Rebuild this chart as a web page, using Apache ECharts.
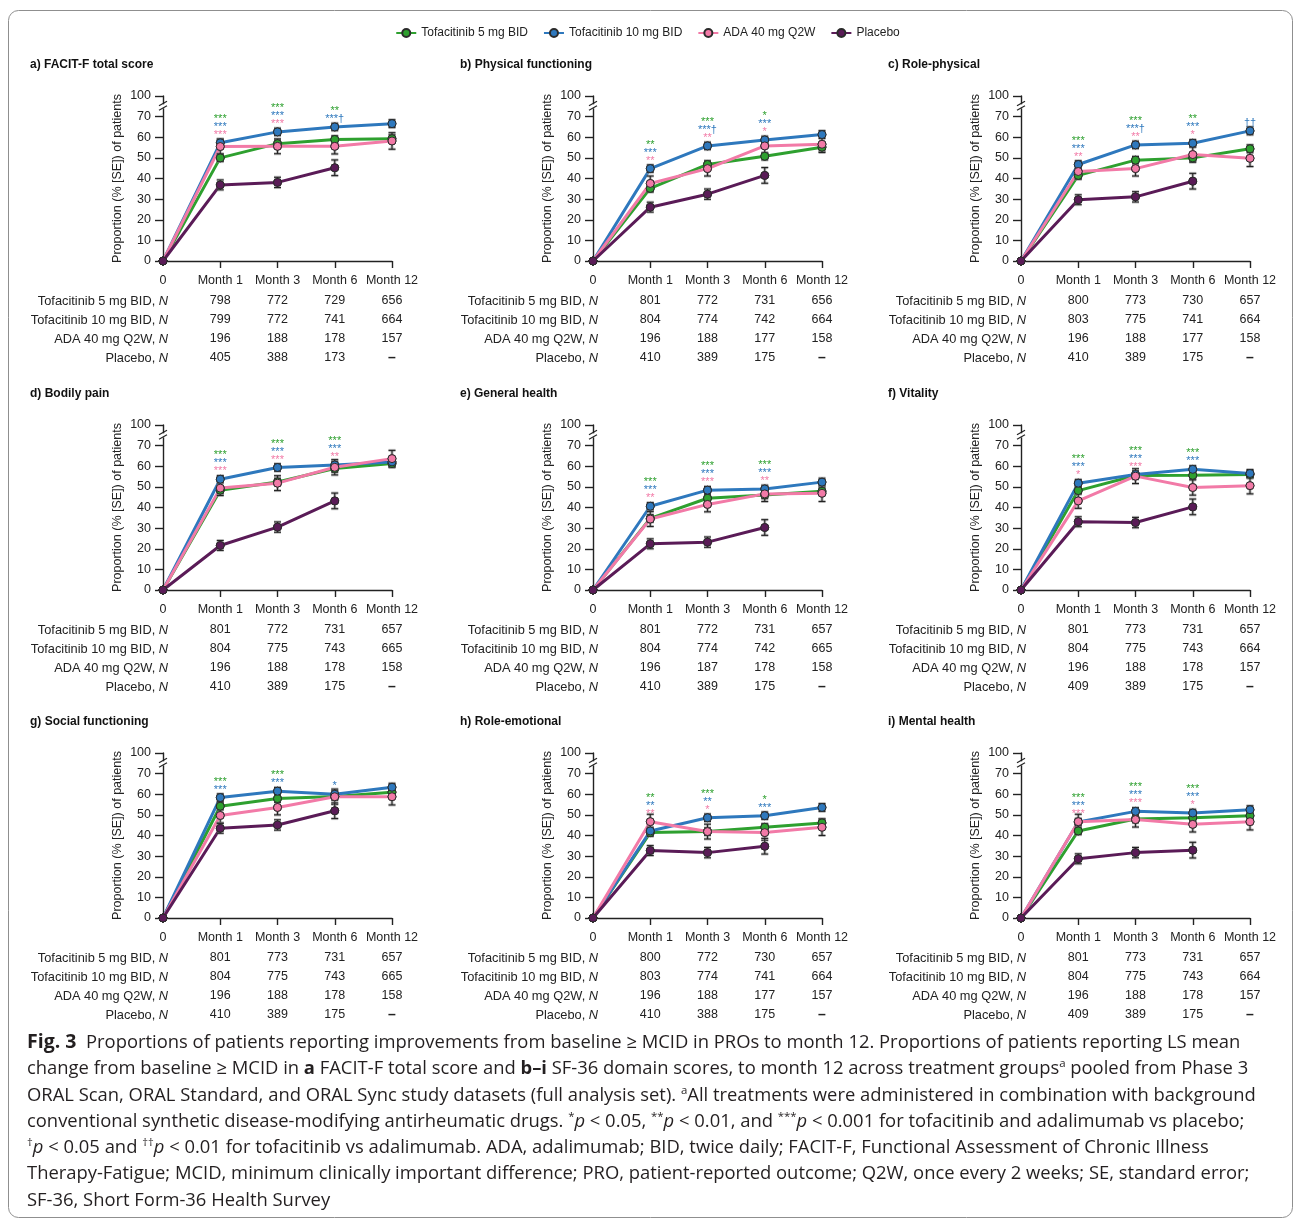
<!DOCTYPE html>
<html><head><meta charset="utf-8">
<script src="https://cdn.jsdelivr.net/npm/echarts@6/dist/echarts.min.js"></script>
<style>
html,body{margin:0;padding:0;background:#fff;}
#chart{position:absolute;left:0;top:0;width:1295px;height:1219px;}
#caption{position:absolute;left:27px;top:1028px;font-family:'Open Sans',sans-serif;font-size:18.4px;line-height:26.3px;color:#231f20;white-space:nowrap;}
#caption sup{font-size:62%;line-height:0;vertical-align:0.65em;}
</style></head><body>
<div id="chart"></div>
<div id="caption">
<div><b style="font-size:19.5px">Fig. 3</b>&nbsp; Proportions of patients reporting improvements from baseline ≥ MCID in PROs to month 12. Proportions of patients reporting LS mean</div>
<div>change from baseline ≥ MCID in <b>a</b> FACIT-F total score and <b>b–i</b> SF-36 domain scores, to month 12 across treatment groups<sup>a</sup> pooled from Phase 3</div>
<div>ORAL Scan, ORAL Standard, and ORAL Sync study datasets (full analysis set). <sup>a</sup>All treatments were administered in combination with background</div>
<div>conventional synthetic disease-modifying antirheumatic drugs. <sup>*</sup><i>p</i> &lt; 0.05, <sup>**</sup><i>p</i> &lt; 0.01, and <sup>***</sup><i>p</i> &lt; 0.001 for tofacitinib and adalimumab vs placebo;</div>
<div><sup>†</sup><i>p</i> &lt; 0.05 and <sup>††</sup><i>p</i> &lt; 0.01 for tofacitinib vs adalimumab. ADA, adalimumab; BID, twice daily; FACIT-F, Functional Assessment of Chronic Illness</div>
<div>Therapy-Fatigue; MCID, minimum clinically important difference; PRO, patient-reported outcome; Q2W, once every 2 weeks; SE, standard error;</div>
<div>SF-36, Short Form-36 Health Survey</div>
</div>
<script>
// ---------- data ----------
const monthLabels = ['0', 'Month 1', 'Month 3', 'Month 6', 'Month 12'];
const groupNames = ['Tofacitinib 5 mg BID', 'Tofacitinib 10 mg BID', 'ADA 40 mg Q2W', 'Placebo'];
const groupColors = ['#2ea02f', '#2e78bd', '#f27aa7', '#5a1b57'];
const panelTitles = ['a) FACIT-F total score', 'b) Physical functioning', 'c) Role-physical',
  'd) Bodily pain', 'e) General health', 'f) Vitality',
  'g) Social functioning', 'h) Role-emotional', 'i) Mental health'];
const yAxisName = 'Proportion (% [SE]) of patients';

// standard errors (shared by group)
const seTofa5 = [0, 1.8, 1.8, 1.8, 1.9];
const seTofa10 = [0, 1.8, 1.8, 1.8, 1.9];
const seAda = [0, 3.6, 3.6, 3.7, 4.0];
const sePbo = [0, 2.4, 2.5, 3.8, null];

// a) FACIT-F
const aTofa5 = [0, 50.0, 56.9, 58.9, 59.3];
const aTofa10 = [0, 57.3, 62.6, 65.0, 66.6];
const aAda = [0, 55.5, 55.6, 55.6, 58.2];
const aPbo = [0, 36.9, 38.1, 45.2, null];
const aN5 = ['798', '772', '729', '656'];
const aN10 = ['799', '772', '741', '664'];
const aNAda = ['196', '188', '178', '157'];
const aNPbo = ['405', '388', '173', '–'];
const aStars = [null, ['***', '***', '***'], ['***', '***', '***'], ['**', '***†', ''], null];

// b) Physical functioning
const bTofa5 = [0, 35.2, 46.8, 50.8, 55.2];
const bTofa10 = [0, 44.8, 55.8, 58.7, 61.3];
const bAda = [0, 37.6, 44.8, 55.8, 56.6];
const bPbo = [0, 26.1, 32.4, 41.5, null];
const bN5 = ['801', '772', '731', '656'];
const bN10 = ['804', '774', '742', '664'];
const bNAda = ['196', '188', '177', '158'];
const bNPbo = ['410', '389', '175', '–'];
const bStars = [null, ['**', '***', '**'], ['***', '***†', '**'], ['*', '***', '*'], null];

// c) Role-physical
const cTofa5 = [0, 41.5, 48.9, 50.0, 54.4];
const cTofa10 = [0, 46.8, 56.3, 57.1, 63.1];
const cAda = [0, 43.4, 44.8, 51.6, 49.8];
const cPbo = [0, 29.7, 31.1, 38.7, null];
const cN5 = ['800', '773', '730', '657'];
const cN10 = ['803', '775', '741', '664'];
const cNAda = ['196', '188', '177', '158'];
const cNPbo = ['410', '389', '175', '–'];
const cStars = [null, ['***', '***', '**'], ['***', '***†', '**'], ['**', '***', '*'], ['', '††', '']];

// d) Bodily pain
const dTofa5 = [0, 48.4, 52.4, 58.9, 61.3];
const dTofa10 = [0, 53.7, 59.4, 60.6, 62.1];
const dAda = [0, 49.4, 51.8, 59.5, 63.7];
const dPbo = [0, 21.6, 30.5, 43.2, null];
const dN5 = ['801', '772', '731', '657'];
const dN10 = ['804', '775', '743', '665'];
const dNAda = ['196', '188', '178', '158'];
const dNPbo = ['410', '389', '175', '–'];
const dStars = [null, ['***', '***', '***'], ['***', '***', '***'], ['***', '***', '**'], null];

// e) General health
const eTofa5 = [0, 34.7, 44.5, 46.1, 47.9];
const eTofa10 = [0, 40.6, 48.4, 49.0, 52.3];
const eAda = [0, 34.4, 41.5, 46.6, 46.9];
const ePbo = [0, 22.4, 23.2, 30.3, null];
const eN5 = ['801', '772', '731', '657'];
const eN10 = ['804', '774', '742', '665'];
const eNAda = ['196', '187', '178', '158'];
const eNPbo = ['410', '389', '175', '–'];
const eStars = [null, ['***', '***', '**'], ['***', '***', '***'], ['***', '***', '**'], null];

// f) Vitality
const fTofa5 = [0, 48.2, 55.5, 55.6, 56.0];
const fTofa10 = [0, 51.8, 56.0, 58.5, 56.5];
const fAda = [0, 43.2, 55.2, 49.7, 50.6];
const fPbo = [0, 33.1, 32.7, 40.3, null];
const fN5 = ['801', '773', '731', '657'];
const fN10 = ['804', '775', '743', '664'];
const fNAda = ['196', '188', '178', '157'];
const fNPbo = ['409', '389', '175', '–'];
const fStars = [null, ['***', '***', '*'], ['***', '***', '***'], ['***', '***', ''], null];

// g) Social functioning
const gTofa5 = [0, 54.2, 57.9, 58.9, 61.0];
const gTofa10 = [0, 58.4, 61.5, 60.0, 63.4];
const gAda = [0, 49.7, 53.6, 58.8, 58.8];
const gPbo = [0, 43.5, 45.1, 52.0, null];
const gN5 = ['801', '773', '731', '657'];
const gN10 = ['804', '775', '743', '665'];
const gNAda = ['196', '188', '178', '158'];
const gNPbo = ['410', '389', '175', '–'];
const gStars = [null, ['***', '***', ''], ['***', '***', ''], ['', '*', ''], null];

// h) Role-emotional
const hTofa5 = [0, 41.4, 41.9, 44.0, 46.1];
const hTofa10 = [0, 42.2, 48.6, 49.6, 53.6];
const hAda = [0, 46.7, 41.9, 41.4, 44.0];
const hPbo = [0, 32.7, 31.7, 34.8, null];
const hN5 = ['800', '772', '730', '657'];
const hN10 = ['803', '774', '741', '664'];
const hNAda = ['196', '188', '177', '157'];
const hNPbo = ['410', '388', '175', '–'];
const hStars = [null, ['**', '**', '**'], ['***', '**', '*'], ['*', '***', ''], null];

// i) Mental health
const iTofa5 = [0, 42.2, 48.0, 48.6, 49.6];
const iTofa10 = [0, 46.5, 51.7, 50.9, 52.5];
const iAda = [0, 46.7, 47.7, 45.4, 46.7];
const iPbo = [0, 28.7, 31.7, 32.9, null];
const iN5 = ['801', '773', '731', '657'];
const iN10 = ['804', '775', '743', '664'];
const iNAda = ['196', '188', '178', '157'];
const iNPbo = ['409', '389', '175', '–'];
const iStars = [null, ['***', '***', '***'], ['***', '***', '***'], ['***', '***', '*'], null];

// ---------- assemble ----------
const seAll = [seTofa5, seTofa10, seAda, sePbo];
const panels = [
  { vals: [aTofa5, aTofa10, aAda, aPbo], ns: [aN5, aN10, aNAda, aNPbo], stars: aStars },
  { vals: [bTofa5, bTofa10, bAda, bPbo], ns: [bN5, bN10, bNAda, bNPbo], stars: bStars },
  { vals: [cTofa5, cTofa10, cAda, cPbo], ns: [cN5, cN10, cNAda, cNPbo], stars: cStars },
  { vals: [dTofa5, dTofa10, dAda, dPbo], ns: [dN5, dN10, dNAda, dNPbo], stars: dStars },
  { vals: [eTofa5, eTofa10, eAda, ePbo], ns: [eN5, eN10, eNAda, eNPbo], stars: eStars },
  { vals: [fTofa5, fTofa10, fAda, fPbo], ns: [fN5, fN10, fNAda, fNPbo], stars: fStars },
  { vals: [gTofa5, gTofa10, gAda, gPbo], ns: [gN5, gN10, gNAda, gNPbo], stars: gStars },
  { vals: [hTofa5, hTofa10, hAda, hPbo], ns: [hN5, hN10, hNAda, hNPbo], stars: hStars },
  { vals: [iTofa5, iTofa10, iAda, iPbo], ns: [iN5, iN10, iNAda, iNPbo], stars: iStars }
];

const FONT = "'Liberation Sans', Arial, Helvetica, sans-serif";
const TXT = '#222';
const colLeft = [163, 593, 1021];
const rowTop = [96, 425, 753];
const gridW = 229, gridH = 165;
const tableOffsets = [40, 59, 78, 97];

const grid = [], xAxis = [], yAxis = [], series = [], title = [];

panels.forEach((p, k) => {
  const c = k % 3, r = Math.floor(k / 3);
  grid.push({ left: colLeft[c], top: rowTop[r], width: gridW, height: gridH });
  title.push({
    text: panelTitles[k], left: colLeft[c] - 133, top: rowTop[r] - 37, padding: 0,
    textStyle: { fontSize: 12, fontWeight: 'bold', color: '#111', fontFamily: FONT }
  });
  xAxis.push({
    type: 'category', gridIndex: k, data: monthLabels, boundaryGap: false,
    axisLine: { lineStyle: { color: TXT, width: 1.4 } },
    axisTick: { show: true, length: 7, interval: (i) => i > 0, lineStyle: { color: TXT, width: 1.4 } },
    axisLabel: { interval: 0, margin: 20, verticalAlign: 'middle', fontSize: 12.5, color: TXT, fontFamily: FONT },
    splitLine: { show: false }
  });
  yAxis.push({
    type: 'value', gridIndex: k, min: 0, max: 80, interval: 10,
    axisLine: { show: true, lineStyle: { color: TXT, width: 1.4 } },
    axisTick: { show: true, length: 8, lineStyle: { color: TXT, width: 1.4 } },
    splitLine: { show: false },
    axisLabel: { margin: 12, fontSize: 12.5, color: TXT, fontFamily: FONT,
      formatter: (v) => (v === 80 ? '100' : String(v)) },
    name: yAxisName, nameLocation: 'middle', nameGap: 39,
    nameTextStyle: { fontSize: 12.5, color: TXT, fontFamily: FONT }
  });

  // lines (with symbols for the legend icon)
  p.vals.forEach((arr, g) => {
    series.push({
      type: 'line', name: groupNames[g], xAxisIndex: k, yAxisIndex: k, data: arr,
      symbol: 'circle', symbolSize: 8, showSymbol: true, z: 2, silent: true,
      lineStyle: { width: 3, color: groupColors[g] },
      itemStyle: { color: groupColors[g], borderColor: '#2b2b2b', borderWidth: 1 },
      emphasis: { disabled: true }
    });
  });
  // error bars
  p.vals.forEach((arr, g) => {
    const se = seAll[g];
    const d = [];
    arr.forEach((v, i) => { if (v != null && se[i]) d.push([i, v, se[i]]); });
    series.push({
      type: 'custom', name: 'err' + k + '-' + g, xAxisIndex: k, yAxisIndex: k, z: 3, silent: true, clip: false,
      data: d,
      renderItem(params, api) {
        const x = api.value(0), y = api.value(1), s = api.value(2);
        const t = api.coord([x, y + s]), b = api.coord([x, y - s]);
        const cx = t[0], w = 3.5;
        const mk = (stroke, lw) => [
          { type: 'line', shape: { x1: cx, y1: t[1], x2: cx, y2: b[1] }, style: { stroke, lineWidth: lw } },
          { type: 'line', shape: { x1: cx - w, y1: t[1], x2: cx + w, y2: t[1] }, style: { stroke, lineWidth: lw } },
          { type: 'line', shape: { x1: cx - w, y1: b[1], x2: cx + w, y2: b[1] }, style: { stroke, lineWidth: lw } }
        ];
        return { type: 'group', children: mk('rgba(140,140,140,0.55)', 3).concat(mk('#222', 1.1)) };
      }
    });
  });
  // markers on top
  p.vals.forEach((arr, g) => {
    const d = [];
    arr.forEach((v, i) => { if (v != null) d.push([i, v]); });
    series.push({
      type: 'scatter', name: 'mk' + k + '-' + g, xAxisIndex: k, yAxisIndex: k, data: d,
      symbol: 'circle', symbolSize: 8, z: 4, silent: true,
      itemStyle: { color: groupColors[g], borderColor: '#2b2b2b', borderWidth: 1, opacity: 1 },
      emphasis: { disabled: true }
    });
  });
  // significance markers
  const starItems = [];
  p.stars.forEach((s, i) => {
    if (!s) return;
    const vals = p.vals.map((a) => a[i]).filter((v) => v != null);
    starItems.push({ value: [i, Math.max.apply(null, vals)], rows: s });
  });
  series.push({
    type: 'custom', name: 'stars' + k, xAxisIndex: k, yAxisIndex: k, z: 5, silent: true, clip: false,
    data: starItems.map((d) => d.value),
    renderItem(params, api) {
      const rows = starItems[params.dataIndex].rows;
      const pt = api.coord([api.value(0), api.value(1)]);
      const children = [];
      let level = 0;
      for (let rr = 2; rr >= 0; rr--) {
        if (!rows[rr]) continue;
        children.push({ type: 'text', style: {
          text: rows[rr], x: pt[0], y: pt[1] - 8 - level * 8, align: 'center', verticalAlign: 'middle',
          fill: groupColors[rr], fontSize: 11, fontFamily: FONT } });
        level++;
      }
      return { type: 'group', children };
    }
  });
  // y-axis break mark
  series.push({
    type: 'custom', name: 'brk' + k, xAxisIndex: k, yAxisIndex: k, z: 6, silent: true, clip: false,
    data: [[0, 75]],
    renderItem(params, api) {
      const q = api.coord([api.value(0), api.value(1)]);
      return { type: 'group', children: [
        { type: 'rect', shape: { x: q[0] - 2, y: q[1] - 2, width: 4, height: 4 }, style: { fill: '#fff' } },
        { type: 'line', shape: { x1: q[0] - 4, y1: q[1] - 0.5, x2: q[0] + 4, y2: q[1] - 5 }, style: { stroke: TXT, lineWidth: 1.2 } },
        { type: 'line', shape: { x1: q[0] - 4, y1: q[1] + 4, x2: q[0] + 4, y2: q[1] - 0.5 }, style: { stroke: TXT, lineWidth: 1.2 } }
      ] };
    }
  });
  // N table
  series.push({
    type: 'custom', name: 'tbl' + k, xAxisIndex: k, yAxisIndex: k, z: 5, silent: true, clip: false,
    data: monthLabels.map((m, i) => [i, 0]),
    renderItem(params, api) {
      const i = params.dataIndex;
      const pt = api.coord([api.value(0), api.value(1)]);
      const children = [];
      for (let j = 0; j < 4; j++) {
        const y = pt[1] + tableOffsets[j];
        if (i === 0) {
          children.push({ type: 'text', style: {
            text: groupNames[j] + ', {it|N}', x: pt[0] + 5, y, align: 'right', verticalAlign: 'middle',
            fill: TXT, fontSize: 12.8, fontFamily: FONT,
            rich: { it: { fontStyle: 'italic', fontSize: 12.8, fontFamily: FONT, fill: TXT } } } });
        } else {
          const t = p.ns[j][i - 1];
          children.push({ type: 'text', style: {
            text: t, x: pt[0], y, align: 'center', verticalAlign: 'middle',
            fill: TXT, fontSize: t === '–' ? 14 : 12.5, fontWeight: t === '–' ? 'bold' : 'normal', fontFamily: FONT } });
        }
      }
      return { type: 'group', children };
    }
  });
});

const chart = echarts.init(document.getElementById('chart'), null, { renderer: 'canvas' });
chart.setOption({
  animation: false,
  backgroundColor: '#fff',
  title,
  legend: {
    data: groupNames, top: 22, left: 'center', itemWidth: 20, itemHeight: 10, itemGap: 15,
    textStyle: { fontSize: 12, color: TXT, fontFamily: FONT }
  },
  grid, xAxis, yAxis, series,
  graphic: [{
    type: 'rect', shape: { x: 8.5, y: 10.5, width: 1284, height: 1207, r: 10 },
    style: { fill: 'none', stroke: '#8f8f8f', lineWidth: 1 }, silent: true, z: -1
  }]
});
</script>
</body></html>
